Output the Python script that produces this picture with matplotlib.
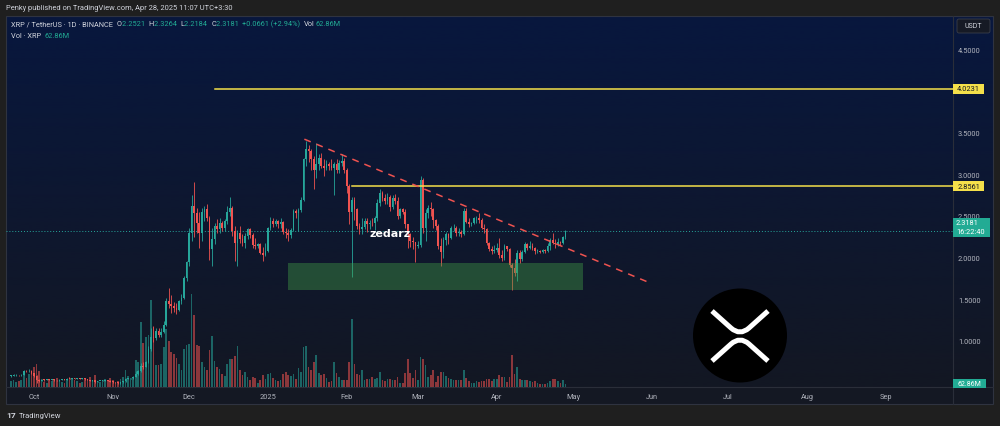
import numpy as np
import pandas as pd
import matplotlib
matplotlib.use('Agg')
import matplotlib.pyplot as plt
from matplotlib.patches import Rectangle, FancyBboxPatch, Circle, PathPatch
from matplotlib.path import Path
from matplotlib.ticker import FixedLocator, FormatStrFormatter

plt.rcParams['font.family'] = ['Roboto', 'DejaVu Sans']

# ------------------------------------------------------------------ data
start_date = '2024-09-22'
end_date = '2025-04-28'
axis_origin = '2024-10-01'
first_open = 0.580

close_sep = [0.584, 0.588, 0.590, 0.587, 0.592, 0.640, 0.637, 0.642, 0.612]
high_sep = [0.594, 0.600, 0.600, 0.598, 0.604, 0.648, 0.650, 0.662, 0.648]
low_sep = [0.574, 0.578, 0.579, 0.580, 0.580, 0.588, 0.628, 0.630, 0.606]
vol_sep = [108, 126, 90, 108, 126, 270, 162, 234, 288]

close_oct = [0.586, 0.535, 0.522, 0.535, 0.532, 0.536, 0.534, 0.535, 0.531, 0.528, 0.537, 0.545, 0.538, 0.548,
             0.545, 0.551, 0.546, 0.551, 0.548, 0.551, 0.540, 0.536, 0.526, 0.530, 0.513, 0.521, 0.521, 0.523,
             0.528, 0.524, 0.512]
high_oct = [0.616, 0.592, 0.540, 0.540, 0.539, 0.540, 0.545, 0.541, 0.539, 0.534, 0.540, 0.547, 0.548, 0.553,
            0.558, 0.556, 0.555, 0.553, 0.552, 0.556, 0.555, 0.542, 0.538, 0.536, 0.537, 0.525, 0.526, 0.527,
            0.533, 0.532, 0.527]
low_oct = [0.570, 0.500, 0.505, 0.520, 0.525, 0.528, 0.530, 0.528, 0.525, 0.520, 0.523, 0.535, 0.535, 0.535,
           0.540, 0.542, 0.541, 0.542, 0.544, 0.544, 0.532, 0.530, 0.520, 0.522, 0.498, 0.508, 0.515, 0.515,
           0.518, 0.518, 0.505]
vol_oct = [360, 414, 288, 144, 90, 72, 126, 108, 126, 162, 126, 90, 72, 144, 180, 162, 126, 108, 72, 90, 162,
           144, 180, 126, 216, 108, 90, 108, 144, 126, 162]

close_nov = [0.508, 0.505, 0.497, 0.506, 0.518, 0.547, 0.551, 0.556, 0.566, 0.607, 0.640, 0.705, 0.690, 0.750,
             0.905, 1.046, 1.030, 1.120, 1.075, 1.104, 1.190, 1.480, 1.440, 1.420, 1.395, 1.370, 1.475, 1.510,
             1.750, 1.950]
high_nov = [0.518, 0.512, 0.510, 0.512, 0.522, 0.560, 0.560, 0.562, 0.575, 0.635, 0.657, 0.735, 0.745, 0.765,
            0.935, 1.150, 1.180, 1.150, 1.150, 1.160, 1.240, 1.510, 1.630, 1.550, 1.470, 1.450, 1.490, 1.560,
            1.780, 1.960]
low_nov = [0.500, 0.495, 0.490, 0.490, 0.495, 0.505, 0.540, 0.545, 0.550, 0.565, 0.595, 0.630, 0.660, 0.685,
           0.735, 0.880, 0.990, 1.010, 1.050, 1.050, 1.090, 1.180, 1.390, 1.340, 1.350, 1.320, 1.360, 1.440,
           1.500, 1.720]
vol_nov = [126, 90, 108, 144, 180, 306, 198, 162, 180, 486, 450, 1170, 792, 900, 936, 1566, 1080, 396, 396,
           414, 720, 1044, 828, 630, 594, 522, 414, 306, 684, 756]

close_dec = [2.30, 2.62, 2.53, 2.42, 2.30, 2.55, 2.58, 2.48, 2.10, 2.22, 2.38, 2.34, 2.42, 2.36, 2.44, 2.55,
             2.60, 2.32, 2.18, 2.30, 2.22, 2.18, 2.26, 2.34, 2.27, 2.15, 2.14, 2.16, 2.06, 2.03, 2.08]
high_dec = [2.35, 2.75, 2.91, 2.60, 2.55, 2.60, 2.62, 2.64, 2.50, 2.35, 2.42, 2.46, 2.48, 2.44, 2.46, 2.62,
            2.73, 2.62, 2.38, 2.33, 2.38, 2.28, 2.30, 2.36, 2.35, 2.30, 2.24, 2.18, 2.17, 2.13, 2.17]
low_dec = [1.90, 2.20, 2.25, 2.30, 2.12, 2.20, 2.44, 2.44, 1.97, 1.90, 2.16, 2.30, 2.30, 2.32, 2.32, 2.40,
           2.50, 2.26, 1.96, 1.90, 2.18, 2.14, 2.12, 2.22, 2.24, 2.12, 2.10, 2.12, 2.04, 1.96, 2.02]
vol_dec = [774, 1674, 1296, 756, 738, 450, 360, 306, 666, 918, 468, 360, 324, 234, 198, 414, 504, 504, 558,
           738, 306, 216, 270, 180, 126, 180, 162, 72, 126, 216, 144]

close_jan = [2.35, 2.44, 2.40, 2.44, 2.40, 2.43, 2.31, 2.30, 2.27, 2.33, 2.56, 2.53, 2.57, 2.69, 3.18, 3.30,
             3.28, 3.18, 3.05, 3.12, 3.19, 3.10, 3.08, 3.12, 3.10, 3.08, 3.12, 3.05, 3.13, 3.16, 3.05]
high_jan = [2.37, 2.49, 2.48, 2.46, 2.45, 2.48, 2.44, 2.36, 2.34, 2.36, 2.58, 2.58, 2.60, 2.73, 3.20, 3.40,
            3.35, 3.30, 3.22, 3.37, 3.24, 3.26, 3.18, 3.17, 3.15, 3.18, 3.15, 3.18, 3.17, 3.24, 3.20]
low_jan = [2.07, 2.33, 2.37, 2.38, 2.36, 2.36, 2.28, 2.24, 2.20, 2.24, 2.32, 2.47, 2.32, 2.55, 2.68, 3.10,
           3.15, 3.05, 2.82, 2.95, 3.05, 3.08, 2.98, 3.05, 3.05, 3.05, 2.75, 3.02, 3.01, 3.10, 3.02]
vol_jan = [234, 252, 162, 126, 108, 126, 234, 270, 216, 198, 234, 144, 342, 270, 720, 738, 360, 306, 450, 576,
           252, 216, 234, 162, 90, 108, 450, 252, 180, 126, 126]

close_feb = [2.86, 2.55, 2.69, 2.58, 2.38, 2.34, 2.37, 2.44, 2.40, 2.42, 2.41, 2.47, 2.65, 2.78, 2.72, 2.68,
             2.73, 2.61, 2.72, 2.68, 2.50, 2.58, 2.55, 2.40, 2.28, 2.20, 2.19, 2.14]
high_feb = [3.08, 2.88, 2.73, 2.73, 2.60, 2.42, 2.48, 2.47, 2.47, 2.45, 2.48, 2.50, 2.70, 2.82, 2.80, 2.76,
            2.78, 2.75, 2.75, 2.76, 2.73, 2.60, 2.60, 2.58, 2.40, 2.30, 2.25, 2.19]
low_feb = [2.78, 2.40, 1.77, 2.45, 2.34, 2.28, 2.28, 2.34, 2.31, 2.34, 2.38, 2.33, 2.44, 2.62, 2.68, 2.64,
           2.64, 2.56, 2.58, 2.64, 2.46, 2.48, 2.52, 2.36, 2.12, 2.13, 2.10, 1.95]
vol_feb = [126, 450, 1224, 414, 234, 216, 306, 126, 144, 144, 180, 144, 162, 270, 126, 108, 144, 144, 126, 126,
           180, 72, 72, 252, 504, 252, 162, 306]

close_mar = [2.15, 2.93, 2.36, 2.54, 2.60, 2.58, 2.45, 2.38, 2.14, 2.07, 2.21, 2.28, 2.23, 2.35, 2.36, 2.29,
             2.31, 2.28, 2.56, 2.43, 2.40, 2.41, 2.47, 2.48, 2.45, 2.36, 2.34, 2.17, 2.10, 2.08, 2.09]
high_mar = [2.20, 2.98, 2.96, 2.58, 2.63, 2.67, 2.60, 2.46, 2.40, 2.24, 2.25, 2.31, 2.30, 2.38, 2.40, 2.38,
            2.35, 2.33, 2.59, 2.60, 2.48, 2.43, 2.49, 2.50, 2.53, 2.48, 2.40, 2.35, 2.19, 2.14, 2.15]
low_mar = [2.12, 2.13, 2.30, 2.20, 2.48, 2.50, 2.35, 2.33, 2.10, 1.90, 2.00, 2.15, 2.16, 2.22, 2.32, 2.26,
           2.26, 2.25, 2.27, 2.41, 2.37, 2.38, 2.40, 2.42, 2.42, 2.34, 2.30, 2.15, 2.08, 2.04, 2.05]
vol_mar = [126, 540, 504, 396, 180, 216, 306, 90, 198, 270, 270, 198, 162, 144, 126, 126, 126, 126, 306, 162,
           108, 72, 72, 108, 90, 108, 108, 144, 144, 108, 144]

close_apr = [2.12, 2.03, 2.00, 2.14, 2.10, 1.91, 1.88, 1.82, 2.05, 1.98, 2.07, 2.16, 2.12, 2.14, 2.12, 2.08,
             2.085, 2.07, 2.09, 2.08, 2.14, 2.21, 2.18, 2.16, 2.19, 2.17, 2.2521, 2.3181]
high_apr = [2.18, 2.23, 2.09, 2.16, 2.14, 2.11, 1.93, 1.98, 2.09, 2.09, 2.09, 2.19, 2.18, 2.20, 2.17, 2.13,
            2.10, 2.09, 2.10, 2.10, 2.18, 2.24, 2.30, 2.22, 2.23, 2.20, 2.26, 2.3264]
low_apr = [2.07, 2.00, 1.96, 1.97, 2.08, 1.89, 1.61, 1.78, 1.72, 1.94, 1.96, 2.05, 2.09, 2.10, 2.09, 2.04,
           2.06, 2.05, 2.06, 2.06, 2.07, 2.09, 2.16, 2.12, 2.14, 2.15, 2.16, 2.2184]
vol_apr = [144, 216, 180, 180, 90, 180, 576, 234, 360, 144, 126, 126, 126, 108, 90, 108, 72, 54, 54, 54, 72,
           108, 144, 144, 108, 72, 126, 62.86]

month_starts = ['2024-10-01', '2024-11-01', '2024-12-01', '2025-01-01', '2025-02-01', '2025-03-01',
                '2025-04-01', '2025-05-01', '2025-06-01', '2025-07-01', '2025-08-01', '2025-09-01']
month_labels = ['Oct', 'Nov', 'Dec', '2025', 'Feb', 'Mar', 'Apr', 'May', 'Jun', 'Jul', 'Aug', 'Sep']
price_ticks = [1.0, 1.5, 2.0, 2.5, 3.0, 3.5, 4.5]

level_high = 4.0231
level_high_from = '2024-12-11'
level_mid = 2.8561
level_mid_from = '2025-02-03'
last_price = 2.3181
countdown = '16:22:40'
last_volume_label = '62.86M'
zone_low, zone_high = 1.61, 1.935
zone_from, zone_to = '2025-01-08 22:00', '2025-05-05'
trend_from, trend_from_price = '2025-01-15 08:00', 3.42
trend_to, trend_to_price = '2025-05-30 10:00', 1.707

header_title = 'Penky published on TradingView.com, Apr 28, 2025 11:07 UTC+3:30'
legend_line1 = [('XRP / TetherUS · 1D · BINANCE  ', 'g'), ('O', 'g'), ('2.2521  ', 't'), ('H', 'g'),
                ('2.3264  ', 't'), ('L', 'g'), ('2.2184  ', 't'), ('C', 'g'), ('2.3181  ', 't'),
                ('+0.0661 (+2.94%)  ', 't'), ('Vol', 'g'), ('62.86M', 't')]
legend_line2 = [('Vol · XRP  ', 'g'), ('62.86M', 't')]

# ------------------------------------------------------------------ prep
close = np.array(close_sep + close_oct + close_nov + close_dec + close_jan + close_feb + close_mar + close_apr)
high = np.array(high_sep + high_oct + high_nov + high_dec + high_jan + high_feb + high_mar + high_apr)
low = np.array(low_sep + low_oct + low_nov + low_dec + low_jan + low_feb + low_mar + low_apr)
volume = np.array(vol_sep + vol_oct + vol_nov + vol_dec + vol_jan + vol_feb + vol_mar + vol_apr, dtype=float)
open_ = np.concatenate([[first_open], close[:-1]])

origin = pd.Timestamp(axis_origin)


def day(d):
    return (pd.Timestamp(d) - origin) / pd.Timedelta(days=1)


dates = pd.date_range(start_date, end_date, freq='D')
x = np.array([day(d) for d in dates])
assert len(x) == len(close) == len(high) == len(low) == len(volume)

UP, DN = '#26a69a', '#ef5350'
TEAL_LBL = '#22ab94'
YELLOW = '#f5e04a'
GRAY = '#b2b5be'
LIGHT = '#d1d4dc'

W, H = 1000, 427
fig = plt.figure(figsize=(W / 100, H / 100), dpi=100, facecolor='#1f1f1f')


def fbox(x0, y0, x1, y1):
    return [x0 / W, 1 - y1 / H, (x1 - x0) / W, (y1 - y0) / H]


# background (pixel coordinates, top-down)
bgax = fig.add_axes([0, 0, 1, 1], zorder=0)
bgax.set_xlim(0, W)
bgax.set_ylim(H, 0)
bgax.axis('off')
g = np.linspace(0, 1, 256)[:, None, None]
c_top = np.array([8, 23, 62]) / 255
c_bot = np.array([19, 23, 35]) / 255
img = c_top[None, None, :] * (1 - g) + c_bot[None, None, :] * g
bgax.imshow(img, extent=(6, 993, 388, 17), aspect='auto', interpolation='bilinear')
bgax.add_patch(Rectangle((6, 388), 987, 17, facecolor='#141823', edgecolor='none'))
bgax.add_patch(Rectangle((6, 17), 987, 388, facecolor='none', edgecolor='#2f3340', lw=0.8))
bgax.plot([953, 953], [17, 405], color='#2a2e39', lw=0.8)
bgax.plot([6, 993], [388, 388], color='#2a2e39', lw=0.8)

XMIN, XMAX = -11.0, 361.4
YMIN, YMAX = 0.4484, 4.897

ax_vol = fig.add_axes(fbox(6, 17, 953, 388), zorder=1)
ax = fig.add_axes(fbox(6, 17, 953, 388), zorder=2, sharex=ax_vol)
for a in (ax_vol, ax):
    a.patch.set_visible(False)
    for s in a.spines.values():
        s.set_visible(False)

up = close >= open_
colors = np.where(up, UP, DN)

# volume
ax_vol.bar(x, volume, width=0.66, color=colors, alpha=0.55, linewidth=0)
ax_vol.set_ylim(0, volume.max() * 3.99)
ax_vol.set_yticks([])
ax_vol.tick_params(axis='x', length=0, labelbottom=False)

# candles
ax.vlines(x, low, high, colors=colors, linewidth=0.6, zorder=2)
body_bottom = np.minimum(open_, close)
body_h = np.maximum(np.abs(close - open_), 0.008)
ax.bar(x, body_h, bottom=body_bottom, width=0.66, color=colors, linewidth=0, zorder=2)

ax.set_xlim(XMIN, XMAX)
ax.set_ylim(YMIN, YMAX)

# support zone
z0, z1 = day(zone_from), day(zone_to)
ax.add_patch(Rectangle((z0, zone_low), z1 - z0, zone_high - zone_low, facecolor='#43a047', alpha=0.4,
                       edgecolor='none', zorder=3))

# horizontal levels
ax.plot([day(level_high_from), XMAX], [level_high, level_high], color=YELLOW, lw=1.1, zorder=4, clip_on=False)
ax.plot([day(level_mid_from), XMAX], [level_mid, level_mid], color=YELLOW, lw=1.1, zorder=4, clip_on=False)
ax.axhline(last_price, color=UP, lw=0.7, ls=(0, (1, 2)), zorder=1)

# trend line
ax.plot([day(trend_from), day(trend_to)], [trend_from_price, trend_to_price], color='#ef5350', lw=1.1,
        dashes=(4.5, 4), zorder=4)

# ticks
ax.yaxis.tick_right()
ax.yaxis.set_major_locator(FixedLocator(price_ticks))
ax.yaxis.set_major_formatter(FormatStrFormatter('%.4f'))
ax.tick_params(axis='y', length=0, pad=3.6, labelsize=5.3, labelcolor=GRAY)
ax.set_xticks([day(d) for d in month_starts])
ax.set_xticklabels(month_labels)
ax.tick_params(axis='x', length=0, pad=4.0, labelsize=5.3, labelcolor=GRAY)

# watermark
ax.text(day('2025-02-18'), 2.3, 'zedarz', color='white', fontsize=8, fontweight='bold', ha='center',
        va='center', zorder=5, family=['DejaVu Sans'])

# ------------------------------------------------------------------ overlay (pixels, top-down)
ov = fig.add_axes([0, 0, 1, 1], zorder=10)
ov.set_xlim(0, W)
ov.set_ylim(H, 0)
ov.axis('off')
ov.patch.set_visible(False)


def ypx(a, xv, yv):
    dx, dy = a.transData.transform((xv, yv))
    return H - dy


def price_box(price, text, face, tcolor, h=10):
    yc = ypx(ax, 0, price)
    ov.add_patch(Rectangle((953, yc - h / 2), 31, h, facecolor=face, edgecolor='none'))
    ov.text(968.5, yc, text, color=tcolor, fontsize=5.3, ha='center', va='center')


price_box(level_high, f'{level_high:.4f}', YELLOW, '#131722')
price_box(level_mid, f'{level_mid:.4f}', YELLOW, '#131722')

# last price box with countdown
ov.add_patch(Rectangle((953, 218.5), 37, 19, facecolor=TEAL_LBL, edgecolor='none'))
ov.text(956, 223.5, f'{last_price:.4f}', color='white', fontsize=5.3, ha='left', va='center')
ov.text(956, 232.5, countdown, color='white', fontsize=5.3, ha='left', va='center')

# volume label
yv = ypx(ax_vol, x[-1], volume[-1])
ov.add_patch(Rectangle((953, yv - 4.5), 33, 9, facecolor=TEAL_LBL, edgecolor='none'))
ov.text(969.5, yv, last_volume_label, color='white', fontsize=5.0, ha='center', va='center')

# USDT box
ov.add_patch(FancyBboxPatch((957, 20), 33, 14, boxstyle='round,pad=0,rounding_size=2',
                            facecolor='#161a25', edgecolor='#3a3e4a', lw=0.6))
ov.text(973.5, 27, 'USDT', color=LIGHT, fontsize=5.0, ha='center', va='center')

# header
ov.text(6, 8.5, header_title, color=LIGHT, fontsize=5.4, ha='left', va='center')

COLMAP = {'g': LIGHT, 't': TEAL_LBL}


def chain(parts, x0, y0):
    prev = ov.text(x0, y0, parts[0][0], color=COLMAP[parts[0][1]], fontsize=5.3, ha='left', va='center')
    for s, c in parts[1:]:
        prev = ov.annotate(s, xy=(1, 0), xycoords=prev, va='bottom', ha='left', color=COLMAP[c],
                           fontsize=5.3)


chain(legend_line1, 11, 25)
chain(legend_line2, 11, 37)

# footer
ov.text(6, 416, '17', color=LIGHT, fontsize=6.0, fontweight='bold', ha='left', va='center')
ov.text(19, 416, 'TradingView', color=LIGHT, fontsize=5.5, ha='left', va='center')

# XRP logo
ov.add_patch(Circle((740, 336.5), 47, facecolor='black', edgecolor='none'))
top_path = Path([(712, 312), (731, 329), (740, 337), (749, 329), (768, 312)],
                [Path.MOVETO, Path.LINETO, Path.CURVE3, Path.CURVE3, Path.LINETO])
bot_path = Path([(712, 362), (731, 345), (740, 337), (749, 345), (768, 362)],
                [Path.MOVETO, Path.LINETO, Path.CURVE3, Path.CURVE3, Path.LINETO])
for p in (top_path, bot_path):
    ov.add_patch(PathPatch(p, facecolor='none', edgecolor='white', lw=3.6, capstyle='butt', joinstyle='round'))

fig.savefig('out.png', dpi=100, facecolor=fig.get_facecolor())
